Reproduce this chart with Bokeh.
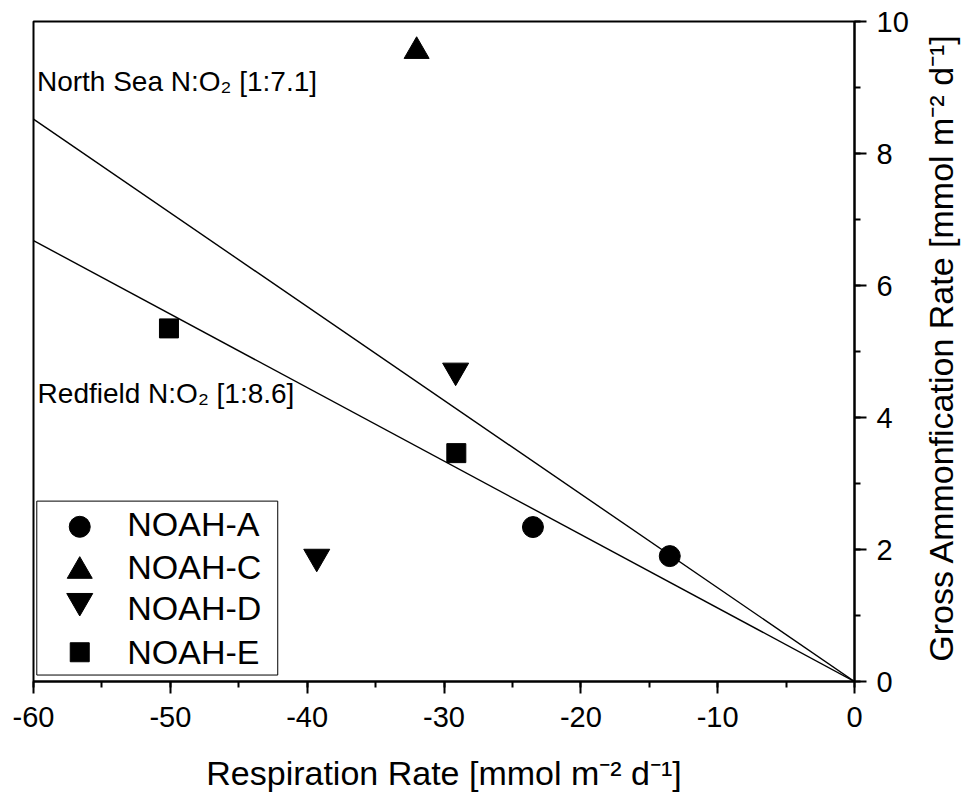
import math
from bokeh.plotting import figure
from bokeh.layouts import row
from bokeh.models import Range1d, SingleIntervalTicker
from bokeh.core.properties import value
from bokeh.embed import file_html
from bokeh.resources import INLINE

FONT = "Liberation Sans"

# ---- data ----
sites = ["NOAH-A", "NOAH-C", "NOAH-D", "NOAH-E"]
markers = ["circle", "triangle", "inverted_triangle", "square"]
resp_A = [-23.5, -13.5]
gross_A = [2.34, 1.90]
resp_C = [-32.0]
gross_C = [9.55]
resp_D = [-29.15, -39.3]
gross_D = [4.71, 1.89]
resp_E = [-50.1, -29.1]
gross_E = [5.35, 3.46]

ratio_x = [-60, 0]
north_sea_y = [8.52, 0]
redfield_y = [6.68, 0]

x_ticks = [-60, -50, -40, -30, -20, -10, 0]
y_ticks = [0, 2, 4, 6, 8, 10]

x_title = "Respiration Rate [mmol m\u207b\u00b2 d\u207b\u00b9]"
y_title = "Gross Ammonfication Rate [mmol m\u207b\u00b2 d\u207b\u00b9]"

# ---- layout / style (not data) ----
marker_sizes = [21, 25, 26, 19]
leg_box = dict(left=-59.76, right=-42.15, bottom=0.098, top=2.733)
leg_marker_x = -56.62
leg_marker_y = [2.344, 1.673, 1.22, 0.443]
leg_text_x = -53.15
leg_text_y = [2.392, 1.741, 1.120, 0.454]

p = figure(frame_width=821, frame_height=660,
           x_range=Range1d(-60, 0), y_range=Range1d(0, 10),
           y_axis_location="right",
           output_backend="svg", toolbar_location=None,
           min_border_left=33, min_border_top=21,
           min_border_right=62, min_border_bottom=0)
p.background_fill_color = "white"
p.border_fill_color = "white"
p.grid.visible = False
p.outline_line_color = "black"
p.outline_line_width = 2

p.xaxis.ticker = SingleIntervalTicker(interval=10, num_minor_ticks=2)
p.yaxis.ticker = SingleIntervalTicker(interval=2, num_minor_ticks=2)
p.xaxis.major_label_overrides = {t: str(t) for t in x_ticks}
p.yaxis.major_label_overrides = {t: str(t) for t in y_ticks}

for ax in (p.xaxis[0], p.yaxis[0]):
    ax.axis_line_width = 2
    ax.major_tick_line_width = 2
    ax.minor_tick_line_width = 2
    ax.major_tick_out = 12
    ax.major_tick_in = 0
    ax.minor_tick_out = 6
    ax.minor_tick_in = 0
    ax.major_label_text_font = FONT
    ax.major_label_text_font_size = "29px"
    ax.major_label_text_color = "black"

p.xaxis.major_label_standoff = 13
p.yaxis.major_label_standoff = 10
p.xaxis.axis_label = x_title
p.xaxis.axis_label_standoff = 24
p.xaxis.axis_label_text_font = FONT
p.xaxis.axis_label_text_font_size = "34px"
p.xaxis.axis_label_text_font_style = "normal"
p.xaxis.axis_label_text_color = "black"

# ratio lines
p.line(ratio_x, north_sea_y, line_color="black", line_width=1.4)
p.line(ratio_x, redfield_y, line_color="black", line_width=1.4)

p.text(x=[-59.75], y=[9.09], text=["North Sea N:O\u2082 [1:7.1]"],
       text_font=value(FONT), text_font_size="28px", text_color="black",
       text_baseline="alphabetic", text_align="left")
p.text(x=[-59.7], y=[4.365], text=["Redfield N:O\u2082 [1:8.6]"],
       text_font=value(FONT), text_font_size="28px", text_color="black",
       text_baseline="alphabetic", text_align="left")

series_x = [resp_A, resp_C, resp_D, resp_E]
series_y = [gross_A, gross_C, gross_D, gross_E]
for xs, ys, m, s in zip(series_x, series_y, markers, marker_sizes):
    p.scatter(xs, ys, marker=m, size=s, color="black")

# legend box
p.quad(left=[leg_box["left"]], right=[leg_box["right"]],
       bottom=[leg_box["bottom"]], top=[leg_box["top"]],
       fill_color="white", line_color="black", line_width=1)
for name, m, s, my, ty in zip(sites, markers, marker_sizes, leg_marker_y, leg_text_y):
    p.scatter([leg_marker_x], [my], marker=m, size=s, color="black")
    p.text(x=[leg_text_x], y=[ty], text=[name], text_font=value(FONT),
           text_font_size="34px", text_color="black",
           text_baseline="alphabetic", text_align="left")

# right-hand axis title, reading bottom to top
q = figure(frame_width=46, frame_height=660,
           x_range=Range1d(0, 46), y_range=Range1d(0, 10),
           output_backend="svg", toolbar_location=None,
           min_border_left=0, min_border_right=0,
           min_border_top=21, min_border_bottom=0)
q.axis.visible = False
q.grid.visible = False
q.outline_line_color = None
q.background_fill_color = "white"
q.border_fill_color = "white"
q.text(x=[24], y=[5.06], text=[y_title], angle=math.pi / 2,
       text_font=value(FONT), text_font_size="34px", text_color="black",
       text_align="center", text_baseline="middle")

layout = row(p, q, spacing=0)
open("out.html", "w").write(file_html(layout, INLINE))
